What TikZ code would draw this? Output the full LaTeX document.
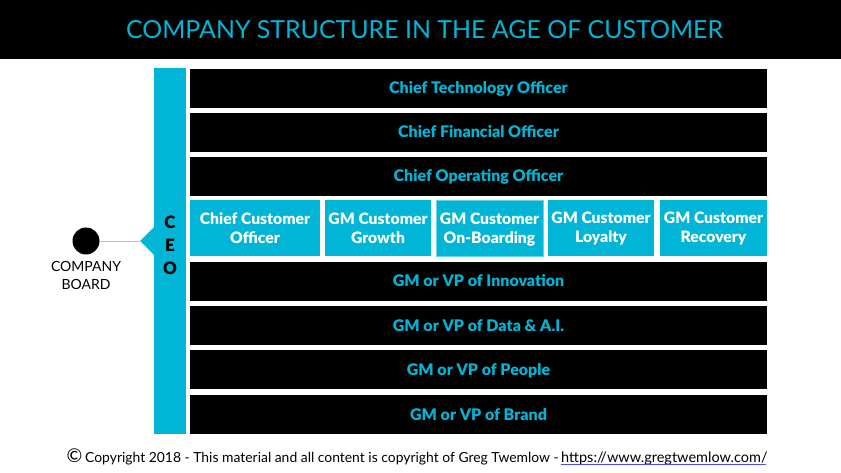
\documentclass[tikz,border=0pt]{standalone}
\usepackage{fontspec}
\setmainfont{Lato}[BoldFont={Lato Black}]
\usetikzlibrary{positioning}
\definecolor{ceocyan}{HTML}{00B5D6}
\newcommand{\custlift}[1]{\rule{0pt}{#1pt}}
\begin{document}
\begin{tikzpicture}[x=1pt,y=-1pt,
    rowbox/.style={fill=black,text=ceocyan,font=\fontsize{16}{18}\selectfont\bfseries,
      minimum width=577pt,minimum height=39pt,inner sep=0pt,outer sep=0pt,anchor=north west,
      execute at begin node={\rule{0pt}{16pt}},execute at end node={\rule[-5pt]{0pt}{5pt}}},
    custbox/.style={fill=ceocyan,text=white,font=\fontsize{15.7}{19}\selectfont\bfseries,
      minimum height=56pt,inner sep=0pt,outer sep=0pt,align=center,anchor=north west},
    lbl/.style={font=\fontsize{14}{18}\selectfont,align=center,inner sep=0pt}]
 \useasboundingbox (0,0) rectangle (841,473);
 % title band
 \node[fill=black,minimum width=841pt,minimum height=59pt,inner sep=0pt,anchor=north west] (title) at (0,0) {};
 \node[text=ceocyan,inner sep=0pt,font=\fontsize{24.9}{30}\selectfont] (titletext) at (424.5,29.5)
   {COMPANY STRUCTURE IN THE AGE OF CUSTOMER};
 % upper rows
 \node[rowbox] (cto) at (190,69) {Chief Technology Officer};
 \node[rowbox,below=5pt of cto] (cfo) {Chief Financial Officer};
 \node[rowbox,below=5pt of cfo] (coo) {Chief Operating Officer};
 % customer boxes
 \node[custbox,minimum width=130pt] (cco) at (190,200) {\custlift{12}Chief Customer\\Officer};
 \node[custbox,minimum width=106pt,right=5pt of cco] (growth) {\custlift{12}GM Customer\\Growth};
 \node[custbox,minimum width=107pt,right=5pt of growth,draw=ceocyan!60] (onboard) {\custlift{14}GM Customer\\On-Boarding};
 \node[custbox,minimum width=106pt,right=5pt of onboard] (loyalty) {\custlift{12}GM Customer\\Loyalty};
 \node[custbox,minimum width=107pt,right=6pt of loyalty] (recovery) {\custlift{12}GM Customer\\Recovery};
 % lower rows
 \node[rowbox] (innov) at (190,262) {GM or VP of Innovation};
 \node[rowbox,below=5pt of innov] (data) {GM or VP of Data \& A.I.};
 \node[rowbox,below=5pt of data] (people) {GM or VP of People};
 \node[rowbox,below=6pt of people] (brand) {GM or VP of Brand};
 % ceo bar
 \node[fill=ceocyan,minimum width=32pt,minimum height=366pt,inner sep=0pt,anchor=north west] (ceo) at (154,68) {};
 \coordinate (tip) at (140,241);
 \fill[ceocyan] (tip) -- (154.5,226.5) -- (154.5,255.5) -- cycle;
 \foreach \X/\Y/\L in {c/222/C,e/245/E,o/268/O}
  \node[font=\fontsize{17}{18}\selectfont\bfseries,text=black] (ceo\X) at (170,\Y) {\L};
 % board
 \node[circle,fill=black,minimum size=27pt,inner sep=0pt] (board) at (86,241) {};
 \draw[black!25,line width=0.6pt] (board) -- (tip);
 \node[lbl] (boardlbl) at (86,275) {COMPANY\\BOARD};
 % footer
 \node[font=\fontsize{13.9}{16}\selectfont,inner sep=0pt,anchor=base west] (copy) at (85,462)
  {Copyright 2018 - This material and all content is copyright of Greg Twemlow -};
 \node[font=\fontsize{14.5}{16}\selectfont,inner sep=0pt,anchor=base west] (link) at (561,462)
  {https://www.gregtwemlow.com/};
 \draw[blue!70,line width=0.5pt] (link.base west)++(0,2) -- ++(205,0);
 \node[font=\fontsize{19}{20}\selectfont,inner sep=0pt] (copysign) at (74.5,456) {©};
\end{tikzpicture}
\end{document}
